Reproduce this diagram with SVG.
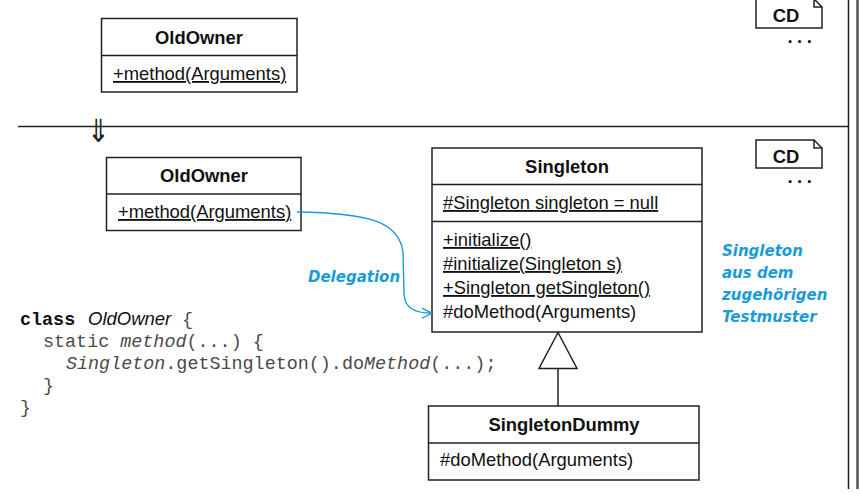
<svg xmlns="http://www.w3.org/2000/svg" width="860" height="500" viewBox="0 0 860 500">
<defs>
<style>
.box{fill:#fff;stroke:#222;stroke-width:1.5}
.ln{stroke:#222;stroke-width:1.5;fill:none}
.t{font-family:"Liberation Sans",Arial,sans-serif;font-size:18.4px;fill:#111}
.b{font-weight:bold}
.u{text-decoration:underline;text-decoration-skip-ink:none}
.c{text-anchor:middle}
.code{font-family:"Liberation Mono","Courier New",monospace;font-size:18.4px;fill:#4a4a4a}
.it{font-style:italic}
.blue{font-family:"DejaVu Sans",sans-serif;font-weight:bold;font-style:italic;font-size:15px;fill:#1a9bd7}
</style>
<marker id="open" viewBox="0 0 12 12" refX="11" refY="6" markerWidth="12" markerHeight="12" markerUnits="userSpaceOnUse" orient="auto">
<path d="M1,1 L11,6 L1,11" fill="none" stroke="#1a9bd7" stroke-width="1.3"/>
</marker>
</defs>
<rect width="860" height="500" fill="#fff"/>

<g id="frame">
<line x1="18" y1="126.5" x2="848.5" y2="126.5" class="ln"/>
<line x1="848.5" y1="0" x2="848.5" y2="489" class="ln"/>
<line x1="857.5" y1="0" x2="857.5" y2="489" stroke="#555" stroke-width="2.5"/>
<text transform="translate(98,142) scale(0.85,1)" x="0" y="0" font-family="Noto Sans CJK SC,DejaVu Sans,sans-serif" font-size="32" font-weight="300" text-anchor="middle" fill="#222">⇓</text>
</g>

<g id="cd1">
<path d="M756,-1 H814 L822,7 V28 H756 Z" class="box"/>
<path d="M814,-1 V7 H822" class="ln" stroke-width="1"/>
<text x="786" y="22" class="t b c">CD</text>
<text x="787.5" y="43" class="t b" letter-spacing="4.5">...</text>
</g>

<g id="cd2">
<path d="M756,140 H814 L822,148 V168 H756 Z" class="box"/>
<path d="M814,140 V148 H822" class="ln" stroke-width="1"/>
<text x="786" y="163" class="t b c">CD</text>
<text x="787.5" y="183" class="t b" letter-spacing="4.5">...</text>
</g>

<g id="oldowner1">
<rect x="101.5" y="18.5" width="195.5" height="73.5" class="box"/>
<line x1="101.5" y1="55.5" x2="297" y2="55.5" class="ln"/>
<text x="199" y="44" class="t b c">OldOwner</text>
<text x="113" y="80" class="t u">+method(Arguments)</text>
</g>

<g id="oldowner2">
<rect x="106.5" y="157.5" width="194.5" height="73" class="box"/>
<line x1="106.5" y1="194" x2="301" y2="194" class="ln"/>
<text x="204" y="182" class="t b c">OldOwner</text>
<text x="118" y="218" class="t u">+method(Arguments)</text>
</g>

<g id="singleton">
<rect x="432" y="148" width="270" height="184" class="box"/>
<line x1="432" y1="184.5" x2="702" y2="184.5" class="ln"/>
<line x1="432" y1="221.5" x2="702" y2="221.5" class="ln"/>
<text x="567" y="173" class="t b c">Singleton</text>
<text x="443" y="209" class="t u">#Singleton singleton = null</text>
<text x="443" y="246" class="t u">+initialize()</text>
<text x="443" y="270" class="t u">#initialize(Singleton s)</text>
<text x="443" y="294" class="t u">+Singleton getSingleton()</text>
<text x="443" y="318" class="t">#doMethod(Arguments)</text>
</g>

<g id="singletondummy">
<rect x="428.5" y="406" width="270.5" height="74" class="box"/>
<line x1="428.5" y1="443" x2="699" y2="443" class="ln"/>
<text x="564" y="431" class="t b c">SingletonDummy</text>
<text x="440" y="466" class="t">#doMethod(Arguments)</text>
</g>

<g id="connectors">
<path d="M558,406 V368.5" class="ln"/>
<path d="M558,332.5 L577,368.5 L539,368.5 Z" class="box"/>
<path d="M297,212 C370,213 399,222 403,252 L404,294 C405,308 414,313 432,313.3" fill="none" stroke="#1a9bd7" stroke-width="1.4" marker-end="url(#open)"/>
</g>

<g id="notes">
<text x="308" y="282" class="blue">Delegation</text>
<text x="722" y="256" class="blue">Singleton</text>
<text x="722" y="278" class="blue">aus dem</text>
<text x="722" y="300" class="blue">zugehörigen</text>
<text x="722" y="322" class="blue">Testmuster</text>
</g>

<g id="code">
<text y="325" class="code"><tspan x="20" font-weight="bold" fill="#111">class</tspan><tspan x="88" font-family="Liberation Sans,Arial,sans-serif" font-style="italic" font-size="18.5" fill="#111">OldOwner</tspan><tspan x="182">{</tspan></text>
<text x="43" y="347" class="code">static <tspan class="it">method</tspan>(...) {</text>
<text x="66" y="369" class="code"><tspan class="it">Singleton</tspan>.getSingleton().do<tspan class="it">Method</tspan>(...);</text>
<text x="43" y="391" class="code">}</text>
<text x="20" y="413" class="code">}</text>
</g>
</svg>
